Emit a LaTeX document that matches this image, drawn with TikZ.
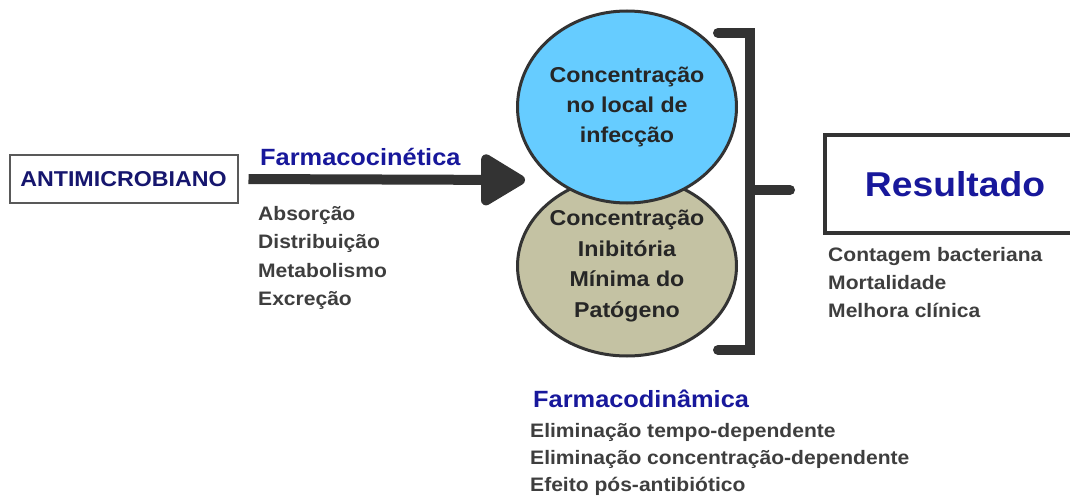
\documentclass[tikz,border=0pt]{standalone}
\usepackage{fontspec}
\setmainfont{Liberation Sans}[FakeStretch=1.08]
\usetikzlibrary{arrows.meta,shapes.geometric}

\definecolor{marinho}{RGB}{22,22,110}
\definecolor{azultit}{RGB}{24,24,155}
\definecolor{cinzatx}{RGB}{62,62,62}
\definecolor{traco}{RGB}{51,51,51}
\definecolor{ciano}{RGB}{102,204,255}
\definecolor{caqui}{RGB}{196,194,163}

\tikzset{
  titulo/.style={anchor=base west, inner sep=0pt, text=azultit,
    font=\bfseries\fontsize{23.5}{28}\selectfont},
  lista/.style={anchor=north west, align=left, inner sep=0pt, text=cinzatx,
    font=\bfseries\fontsize{19.5}{28.5}\selectfont},
  bola/.style={ellipse, draw=traco, line width=3pt, minimum width=208pt,
    inner sep=0pt, align=center, text=black!85,
    font=\bfseries\fontsize{21.5}{30.5}\selectfont},
  colchete/.style={draw=traco, line width=10pt, line cap=round},
}

\begin{document}
\begin{tikzpicture}[x=1pt,y=-1pt]%Farmacocinética e farmacodinâmica
    \useasboundingbox (0,0) rectangle (1070,497);
    \clip (0,0) rectangle (1070,497);

    \node[draw=black!65, line width=2pt, minimum width=228pt, minimum height=48pt,
          text=marinho, font=\bfseries\fontsize{21.5}{26}\selectfont]
          (ab) at (123.5,179) {ANTIMICROBIANO};

    \node[titulo] (fc) at (260,166) {Farmacocinética};
    \node[lista] (fclista) at (258,206) {Absorção\\Distribuição\\Metabolismo\\Excreção};

    \node[bola, fill=caqui, minimum height=180pt] (cim) at (627,266)
        {Concentração\\Inibitória\\Mínima do\\Patógeno};
    \node[bola, fill=ciano, minimum height=192pt,
          font=\bfseries\fontsize{21.5}{30}\selectfont] (cli) at (627,107)
        {Concentração\\no local de\\infecção};

    \coordinate (ponta) at (525,180);
    \draw[draw=traco, line width=10pt, shorten <=10pt,
          -{Triangle[length=49pt,width=56pt,round]}] (ab.east) -- (ponta);

    \coordinate (ct) at (718,33);
    \coordinate (cb) at (718,350);
    \coordinate (cm) at (750,190);
    \coordinate (cs) at (790,190);
    \draw[colchete] (ct) -- (ct -| cm) -- (cb -| cm) -- (cb);
    \draw[colchete] (cm) -- (cs);

    \node[draw=traco, line width=4.5pt, minimum width=260pt, minimum height=98pt,
          text=azultit, font=\bfseries\fontsize{34.5}{40}\selectfont]
          (res) at (955,184) {Resultado};
    \node[lista, font=\bfseries\fontsize{19.5}{28}\selectfont] (reslista) at (828,247)
        {Contagem bacteriana\\Mortalidade\\Melhora clínica};

    \node[titulo] (fd) at (533,407) {Farmacodinâmica};
    \node[lista, font=\bfseries\fontsize{19.5}{27}\selectfont] (fdlista) at (530,423)
        {Eliminação tempo-dependente\\Eliminação concentração-dependente\\Efeito pós-antibiótico};
\end{tikzpicture}
\end{document}
